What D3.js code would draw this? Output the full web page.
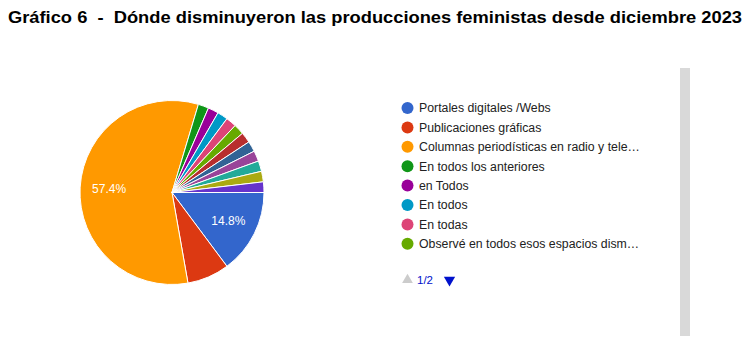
<!DOCTYPE html>
<html>
<head>
<meta charset="utf-8">
<script src="https://cdn.jsdelivr.net/npm/d3@7"></script>
<style>
  html, body { margin: 0; padding: 0; background: #fff; }
  svg { display: block; }
  text { font-family: Arial, "Liberation Sans", sans-serif; }
</style>
</head>
<body>
<svg id="chart" width="752" height="338"></svg>
<script>
// Responses: where feminist productions decreased (counts of answers)
const categories = [
  "Portales digitales /Webs",
  "Publicaciones gráficas",
  "Columnas periodísticas en radio y televisión",
  "En todos los anteriores",
  "en Todos",
  "En todos",
  "En todas",
  "Observé en todos esos espacios disminución de producciones",
  "En todos los medios",
  "Redes sociales",
  "Todas las anteriores",
  "En todos los espacios",
  "Radio",
  "Todos"
];
const counts = [8, 4, 31, 1, 1, 1, 1, 1, 1, 1, 1, 1, 1, 1];
const colors = [
  "#3366cc", "#dc3912", "#ff9900", "#109618", "#990099", "#0099c6", "#dd4477",
  "#66aa00", "#b82e2e", "#316395", "#994499", "#22aa99", "#aaaa11", "#6633cc"
];
const pageLabel = "1/2";
const title = "Gráfico 6  -  Dónde disminuyeron las producciones feministas desde diciembre 2023";

const svg = d3.select("#chart");

// Title
svg.append("text")
  .attr("x", 8).attr("y", 23.3)
  .attr("font-size", 16)
  .attr("font-weight", "bold")
  .attr("fill", "#000")
  .attr("textLength", 734)
  .attr("lengthAdjust", "spacingAndGlyphs")
  .style("white-space", "pre")
  .text(title);

// Pie
const cx = 172, cy = 192.5, radius = 92;
const total = d3.sum(counts);
const data = categories.map((c, i) => ({ name: c, value: counts[i], color: colors[i] }));

const pie = d3.pie()
  .value(d => d.value)
  .sort(null)
  .startAngle(Math.PI / 2)
  .endAngle(Math.PI / 2 + 2 * Math.PI);

const arcs = pie(data);
const arc = d3.arc().innerRadius(0).outerRadius(radius);
const labelArc = d3.arc().innerRadius(radius * 0.685).outerRadius(radius * 0.685);

const g = svg.append("g").attr("transform", `translate(${cx},${cy})`);
g.selectAll("path.slice")
  .data(arcs)
  .join("path")
  .attr("class", "slice")
  .attr("d", arc)
  .attr("fill", d => d.data.color)
  .attr("stroke", "#fff")
  .attr("stroke-width", 1);

const fmt = d3.format(".1f");
g.selectAll("text.pct")
  .data(arcs.filter(d => d.data.value / total >= 0.1))
  .join("text")
  .attr("class", "pct")
  .attr("transform", d => `translate(${labelArc.centroid(d)})`)
  .attr("text-anchor", "middle")
  .attr("dy", "0.35em")
  .attr("font-size", 12)
  .attr("fill", "#fff")
  .text(d => fmt(d.data.value / total * 100) + "%");

// Legend (first page)
const perPage = 8;
const legendX = 407.5, legendY = 108, rowH = 19.4, maxTextW = 222.5;
const legend = svg.append("g");
const rows = legend.selectAll("g.row")
  .data(data.slice(0, perPage))
  .join("g")
  .attr("class", "row")
  .attr("transform", (d, i) => `translate(${legendX},${legendY + i * rowH})`);
rows.append("circle")
  .attr("r", 6)
  .attr("fill", d => d.color);
rows.append("text")
  .attr("x", 11.5)
  .attr("dy", "0.36em")
  .attr("font-size", 12.3)
  .attr("fill", "#222")
  .each(function (d) {
    const t = d3.select(this).text(d.name);
    if (this.getComputedTextLength() > maxTextW) {
      let s = d.name;
      while (s.length > 1) {
        s = s.slice(0, -1);
        t.text(s.trimEnd() + "…");
        if (this.getComputedTextLength() <= maxTextW) break;
      }
    }
  });

// Pager
const pagerY = 280;
svg.append("path")
  .attr("d", d3.symbol(d3.symbolTriangle, 50)())
  .attr("transform", `translate(407.5,${pagerY})`)
  .attr("fill", "#cccccc");
svg.append("text")
  .attr("x", 417).attr("y", pagerY).attr("dy", "0.36em")
  .attr("font-size", 11.5)
  .attr("fill", "#0011cc")
  .text(pageLabel);
svg.append("path")
  .attr("d", d3.symbol(d3.symbolTriangle, 55)())
  .attr("transform", `translate(449.5,${pagerY}) rotate(180)`)
  .attr("fill", "#0011cc");

// Scrollbar
svg.append("rect")
  .attr("x", 680).attr("y", 68)
  .attr("width", 10).attr("height", 268)
  .attr("fill", "#d9d9d9");
</script>
</body>
</html>
